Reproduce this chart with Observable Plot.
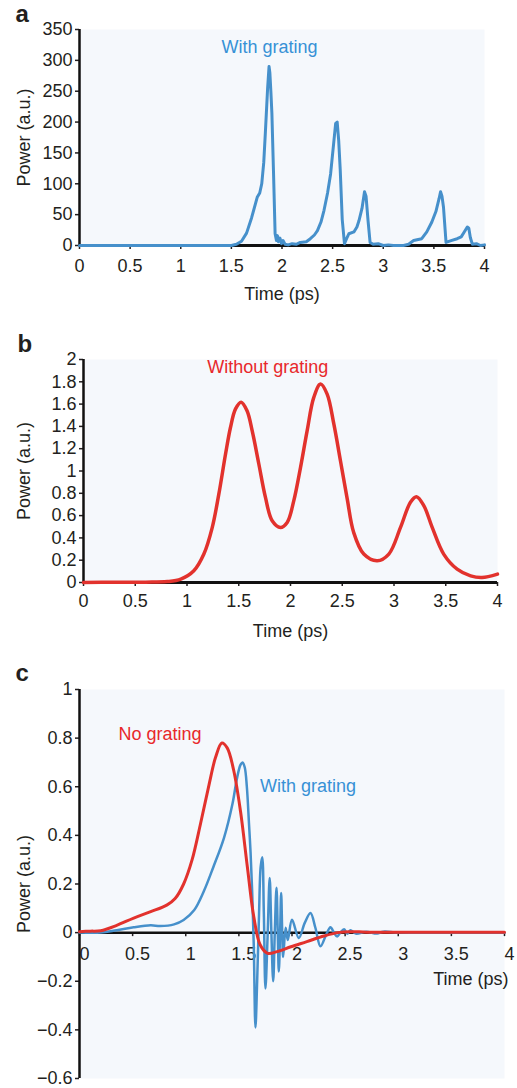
<!DOCTYPE html>
<html>
<head>
<meta charset="utf-8">
<script src="https://cdn.jsdelivr.net/npm/d3@7"></script>
<script src="https://cdn.jsdelivr.net/npm/@observablehq/plot@0.6"></script>
<style>
  html, body { margin: 0; padding: 0; background: #fff; overflow: hidden; }
  #wrap { position: relative; width: 517px; height: 1088px; }
  .panel { position: absolute; left: 0; }
  .panel svg { background: transparent !important; }
</style>
</head>
<body>
<div id="wrap">
  <div class="panel" id="pa" style="top:0px"></div>
  <div class="panel" id="pb" style="top:320px"></div>
  <div class="panel" id="pc" style="top:660px"></div>
</div>
<script>
// ---------- data ----------
// Panel a: with grating
const timeA = [0, 1.0, 1.5, 1.55, 1.6, 1.65, 1.70, 1.755, 1.78, 1.80, 1.82, 1.835, 1.858, 1.872, 1.88, 1.89, 1.90, 1.916, 1.932, 1.945, 1.955, 1.965, 1.98, 1.995, 2.01, 2.03, 2.06, 2.10, 2.14, 2.18, 2.24, 2.28, 2.32, 2.35, 2.385, 2.415, 2.45, 2.48, 2.51, 2.53, 2.545, 2.56, 2.575, 2.595, 2.617, 2.64, 2.66, 2.71, 2.74, 2.76, 2.79, 2.815, 2.83, 2.85, 2.87, 2.9, 2.95, 3.0, 3.05, 3.1, 3.2, 3.25, 3.30, 3.38, 3.43, 3.48, 3.52, 3.55, 3.566, 3.58, 3.595, 3.62, 3.67, 3.73, 3.77, 3.80, 3.83, 3.845, 3.86, 3.88, 3.92, 3.96, 4.0];
const powerA = [0, 0, 0, 2, 7, 20, 45, 78, 85, 100, 135, 181, 255, 290, 280, 250, 215, 120, 19, 8, 16, 6, 12, 3, 8, 2, 1, 3, 2, 5, 6, 11, 17, 24, 38, 57, 85, 116, 165, 198, 200, 170, 123, 42, 3, 12, 19, 22, 30, 40, 60, 87, 80, 40, 5, 2, 3, 0, 1, 0, 0, 2, 8, 11, 22, 38, 55, 75, 87, 80, 62, 5, 8, 11, 14, 22, 30, 28, 13, 2, 3, 0, 1];

// Panel b: without grating
const timeB = [0, 0.3, 0.6, 0.81, 0.94, 1.066, 1.163, 1.243, 1.307, 1.372, 1.42, 1.469, 1.523, 1.58, 1.63, 1.694, 1.758, 1.823, 1.903, 1.968, 2.032, 2.097, 2.161, 2.225, 2.29, 2.354, 2.419, 2.483, 2.548, 2.61, 2.708, 2.838, 2.95, 3.063, 3.159, 3.217, 3.288, 3.369, 3.48, 3.61, 3.74, 3.85, 4.0];
const powerB = [0, 0.002, 0.003, 0.008, 0.03, 0.105, 0.255, 0.49, 0.79, 1.15, 1.39, 1.557, 1.617, 1.54, 1.36, 1.063, 0.763, 0.554, 0.494, 0.539, 0.734, 1.033, 1.362, 1.66, 1.78, 1.69, 1.42, 1.09, 0.75, 0.45, 0.255, 0.195, 0.255, 0.494, 0.72, 0.77, 0.69, 0.494, 0.255, 0.12, 0.06, 0.045, 0.075];

// Panel c: no grating (red) and with grating (blue)
const timeCNo = [0, 0.1, 0.2, 0.35, 0.51, 0.67, 0.825, 0.90, 0.98, 1.06, 1.14, 1.22, 1.28, 1.34, 1.39, 1.45, 1.515, 1.58, 1.64, 1.70, 1.77, 1.86, 1.99, 2.14, 2.30, 2.43, 2.55, 2.7, 3.0, 3.5, 4.0];
const powerCNo = [0.004, 0.006, 0.008, 0.03, 0.06, 0.086, 0.114, 0.14, 0.20, 0.30, 0.45, 0.61, 0.72, 0.78, 0.76, 0.67, 0.50, 0.27, 0.066, -0.05, -0.085, -0.078, -0.058, -0.037, -0.014, 0, 0.004, 0.002, 0.002, 0.002, 0.002];
const timeCWith = [0, 0.2, 0.35, 0.51, 0.67, 0.76, 0.89, 0.98, 1.08, 1.17, 1.26, 1.36, 1.44, 1.48, 1.515, 1.535, 1.555, 1.575, 1.595, 1.61, 1.625, 1.64, 1.656, 1.672, 1.69, 1.705, 1.72, 1.735, 1.75, 1.77, 1.79, 1.806, 1.823, 1.838, 1.854, 1.866, 1.876, 1.888, 1.898, 1.908, 1.917, 1.94, 1.96, 2.0, 2.064, 2.12, 2.174, 2.22, 2.268, 2.32, 2.362, 2.395, 2.425, 2.455, 2.49, 2.52, 2.55, 2.6, 2.7, 2.8, 2.86, 3.0, 3.5, 4.0];
const powerCWith = [0, 0, 0.01, 0.022, 0.03, 0.027, 0.034, 0.052, 0.093, 0.17, 0.27, 0.39, 0.53, 0.63, 0.69, 0.70, 0.68, 0.60, 0.45, 0.33, 0.17, -0.05, -0.39, -0.2, 0.08, 0.27, 0.31, 0.08, -0.23, -0.02, 0.225, 0.0, -0.2, 0.0, 0.185, 0.0, -0.16, 0.0, 0.163, 0.0, -0.1, 0.02, -0.03, 0.053, -0.022, 0.04, 0.081, 0.02, -0.056, -0.01, 0.022, 0.0, -0.016, 0.0, 0.014, -0.005, 0.01, -0.004, 0.004, -0.004, 0.004, 0, 0, 0];

// ticks
const xTicks = [0, 0.5, 1, 1.5, 2, 2.5, 3, 3.5, 4];
const yTicksA = [0, 50, 100, 150, 200, 250, 300, 350];
const yTicksB = [0, 0.2, 0.4, 0.6, 0.8, 1, 1.2, 1.4, 1.6, 1.8, 2];
const yTicksC = [-0.6, -0.4, -0.2, 0, 0.2, 0.4, 0.6, 0.8, 1];

// labels
const panelLetters = ["a", "b", "c"];
const seriesLabelA = {text: "With grating", t: 1.877, p: 321};
const seriesLabelB = {text: "Without grating", t: 1.78, p: 1.93};
const seriesLabelsC = [
  {text: "No grating", t: 0.758, p: 0.815, color: "red"},
  {text: "With grating", t: 2.15, p: 0.602, color: "blue"}
];

// ---------- styles ----------
const FONT = "'Liberation Sans', Arial, Helvetica, sans-serif";
const INK = "#231f20";
const BLUE = "#4690cb";
const BLUE_TXT = "#3791d6";
const RED = "#e2322d";
const RED_TXT = "#e8282b";
const BG = "#f5f8fc";
const FS = 18;
const LETTER_FS = 24;
const fmt = d3.format("~g");

const zip = (xs, ys) => xs.map((x, i) => ({t: x, p: ys[i]}));

function baseStyle() {
  return {fontFamily: FONT, fontSize: FS + "px", color: INK, background: "transparent", overflow: "visible"};
}
function letter(ch, dx, dy) {
  return Plot.text([ch], {frameAnchor: "top-left", lineAnchor: "middle", dx, dy, textAnchor: "start",
    fontWeight: "bold", fontSize: LETTER_FS, fill: INK});
}

// ---------- Panel a ----------
const pa = Plot.plot({
  width: 517, height: 310,
  marginLeft: 79, marginRight: 33, marginTop: 29, marginBottom: 65,
  style: baseStyle(),
  x: {domain: [0, 4]},
  y: {domain: [0, 350]},
  marks: [
    Plot.frame({fill: BG, stroke: "none"}),
    Plot.axisX({ticks: xTicks, tickFormat: fmt, tickSize: 4, tickPadding: 10, fontSize: FS, stroke: INK, strokeWidth: 1.5,
      label: "Time (ps)", labelAnchor: "center", labelArrow: "none", labelOffset: 54}),
    Plot.axisY({ticks: yTicksA, tickFormat: fmt, tickSize: 4, tickPadding: 3, fontSize: FS, stroke: INK, strokeWidth: 1.5,
      label: "Power (a.u.)", labelAnchor: "center", labelArrow: "none", labelOffset: 62}),
    Plot.ruleX([0], {stroke: "#111", strokeWidth: 2.5}),
    Plot.ruleY([0], {stroke: "#111", strokeWidth: 3}),
    Plot.line(zip(timeA, powerA), {x: "t", y: "p", stroke: BLUE, strokeWidth: 3}),
    Plot.text([seriesLabelA], {x: "t", y: "p", text: "text", fill: BLUE_TXT, fontSize: FS}),
    letter(panelLetters[0], -64, -15)
  ]
});
document.getElementById("pa").append(pa);

// ---------- Panel b ----------
const pb = Plot.plot({
  width: 517, height: 330,
  marginLeft: 83, marginRight: 20, marginTop: 39, marginBottom: 68,
  style: baseStyle(),
  x: {domain: [0, 4]},
  y: {domain: [0, 2]},
  marks: [
    Plot.frame({fill: BG, stroke: "none"}),
    Plot.axisX({ticks: xTicks, tickFormat: fmt, tickSize: 4, tickPadding: 8, fontSize: FS, stroke: INK, strokeWidth: 1.5,
      label: "Time (ps)", labelAnchor: "center", labelArrow: "none", labelOffset: 54}),
    Plot.axisY({ticks: yTicksB, tickFormat: fmt, tickSize: 4, tickPadding: 3, fontSize: FS, stroke: INK, strokeWidth: 1.5,
      label: "Power (a.u.)", labelAnchor: "center", labelArrow: "none", labelOffset: 66}),
    Plot.ruleX([0], {stroke: "#111", strokeWidth: 2.5}),
    Plot.ruleY([0], {stroke: "#111", strokeWidth: 3}),
    Plot.line(zip(timeB, powerB), {x: "t", y: "p", stroke: RED, strokeWidth: 3.5, curve: "catmull-rom"}),
    Plot.text([seriesLabelB], {x: "t", y: "p", text: "text", fill: RED_TXT, fontSize: FS}),
    letter(panelLetters[1], -66, -15)
  ]
});
document.getElementById("pb").append(pb);

// ---------- Panel c ----------
const cH = 428, cMT = 29, cMB = 10;
const cDomain = [-0.6, 1];
// shift of the x axis from the bottom of the frame up to y = 0
const zeroShift = -((0 - cDomain[0]) / (cDomain[1] - cDomain[0])) * (cH - cMT - cMB);
const pc = Plot.plot({
  width: 517, height: cH,
  marginLeft: 79, marginRight: 13, marginTop: cMT, marginBottom: cMB,
  style: baseStyle(),
  x: {domain: [0, 4]},
  y: {domain: cDomain},
  marks: [
    Plot.frame({fill: BG, stroke: "none"}),
    // tick marks at y = 0
    Plot.axisX({ticks: xTicks, tickFormat: fmt, tickSize: 4, tickPadding: 11, stroke: INK, strokeWidth: 1.5,
      fill: "none", dy: zeroShift, label: null}),
    // tick labels at y = 0, nudged right as in the original
    Plot.axisX({ticks: xTicks, tickFormat: fmt, tickSize: 4, tickPadding: 11, fontSize: FS, stroke: "none", fill: INK,
      dy: zeroShift, dx: 5, label: null}),
    Plot.axisY({ticks: yTicksC, tickFormat: fmt, tickSize: 4, tickPadding: 3, fontSize: FS, stroke: INK, strokeWidth: 1.5,
      label: "Power (a.u.)", labelAnchor: "center", labelArrow: "none", labelOffset: 62}),
    Plot.ruleX([0], {stroke: "#111", strokeWidth: 2.5}),
    Plot.ruleY([0], {stroke: "#111", strokeWidth: 2.5}),
    Plot.text(["Time (ps)"], {x: () => 4, y: () => 0, dx: 4, dy: 47, textAnchor: "end", fontSize: FS, fill: INK}),
    Plot.line(zip(timeCWith, powerCWith), {x: "t", y: "p", stroke: BLUE, strokeWidth: 2.5, curve: "catmull-rom"}),
    Plot.line(zip(timeCNo, powerCNo), {x: "t", y: "p", stroke: RED, strokeWidth: 3, curve: "catmull-rom"}),
    Plot.text(seriesLabelsC, {x: "t", y: "p", text: "text", fill: d => d.color === "red" ? RED_TXT : BLUE_TXT, fontSize: FS}),
    letter(panelLetters[2], -64, -16)
  ]
});
document.getElementById("pc").append(pc);
</script>
</body>
</html>
